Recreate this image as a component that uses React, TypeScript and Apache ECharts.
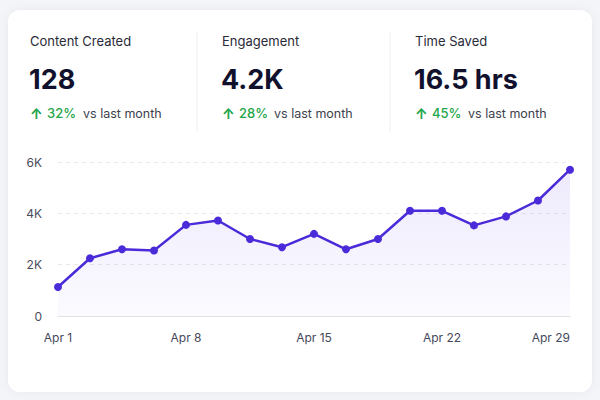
import React, { useEffect, useRef } from "react";
import * as echarts from "echarts";

const dates = [
  "Apr 1", "Apr 3", "Apr 4", "Apr 6", "Apr 8", "Apr 10", "Apr 11", "Apr 13", "Apr 15",
  "Apr 17", "Apr 18", "Apr 20", "Apr 22", "Apr 24", "Apr 25", "Apr 27", "Apr 29",
];
const engagementValues = [
  1130, 2250, 2600, 2550, 3550, 3720, 3000, 2680, 3200,
  2600, 3000, 4100, 4100, 3530, 3880, 4500, 5700,
];
const yTicks = [0, 2000, 4000, 6000];

const statTitles = ["Content Created", "Engagement", "Time Saved"];
const statValues = ["128", "4.2K", "16.5 hrs"];
const statChanges = ["32%", "28%", "45%"];
const statNote = "vs last month";

const FONT = "Inter, 'Noto Sans', sans-serif";

export default function App() {
  const ref = useRef<HTMLDivElement>(null);

  useEffect(() => {
    if (!ref.current) return;
    const chart = echarts.init(ref.current, null, { renderer: "svg" });

    const colX = [30, 222, 415];
    const noteX = [83, 274, 468];
    const graphics: any[] = [
      {
        type: "rect",
        shape: { x: 8, y: 10, width: 584, height: 382, r: 12 },
        style: { fill: "#ffffff", shadowBlur: 10, shadowColor: "rgba(30,30,80,0.05)" },
        z: -10,
      },
      {
        type: "line",
        shape: { x1: 197, y1: 32, x2: 197, y2: 132 },
        style: { stroke: "#eeeff3", lineWidth: 1 },
      },
      {
        type: "line",
        shape: { x1: 390, y1: 32, x2: 390, y2: 132 },
        style: { stroke: "#eeeff3", lineWidth: 1 },
      },
    ];
    statTitles.forEach((t, i) => {
      graphics.push({
        type: "text",
        x: colX[i],
        y: 41,
        style: {
          text: t,
          fill: "#2a2b38",
          font: `400 13px ${FONT}`,
          verticalAlign: "middle",
        },
      });
      graphics.push({
        type: "text",
        x: colX[i] - 1,
        y: 79,
        style: {
          text: statValues[i],
          fill: "#11112e",
          font: `700 27px ${FONT}`,
          verticalAlign: "middle",
        },
      });
      graphics.push({
        type: "text",
        x: colX[i],
        y: 113,
        style: {
          text: "↑",
          fill: "#1fa64b",
          font: `700 14px ${FONT}`,
          verticalAlign: "middle",
        },
      });
      graphics.push({
        type: "text",
        x: colX[i] + 17,
        y: 113,
        style: {
          text: statChanges[i],
          fill: "#1fa64b",
          font: `500 13px ${FONT}`,
          verticalAlign: "middle",
        },
      });
      graphics.push({
        type: "text",
        x: noteX[i],
        y: 113,
        style: {
          text: statNote,
          fill: "#3d3f4d",
          font: `400 12.5px ${FONT}`,
          verticalAlign: "middle",
        },
      });
    });

    chart.setOption({
      animation: false,
      backgroundColor: "#f4f5f9",
      graphic: graphics,
      grid: { left: 58, right: 30, top: 162, bottom: 84 },
      xAxis: {
        type: "category",
        data: dates,
        boundaryGap: false,
        axisLine: { show: true, lineStyle: { color: "#e2e3e9", width: 1 } },
        axisTick: { show: false },
        axisLabel: {
          interval: 3,
          margin: 15,
          color: "#45475a",
          fontSize: 12,
          fontFamily: FONT,
          alignMaxLabel: "right",
        },
        splitLine: { show: false },
      },
      yAxis: {
        type: "value",
        min: yTicks[0],
        max: yTicks[yTicks.length - 1],
        interval: 2000,
        axisLine: { show: false },
        axisTick: { show: false },
        axisLabel: {
          margin: 16,
          color: "#4a4c5c",
          fontSize: 12,
          fontFamily: FONT,
          formatter: (v: number) => (v === 0 ? "0" : `${v / 1000}K`),
        },
        splitLine: {
          show: true,
          lineStyle: { color: "#e7e8ee", type: [4, 4], width: 1 },
        },
      },
      series: [
        {
          type: "line",
          data: engagementValues,
          symbol: "circle",
          symbolSize: 8,
          showSymbol: true,
          lineStyle: { color: "#4b2bd9", width: 2.5 },
          itemStyle: { color: "#4b2bd9" },
          areaStyle: {
            color: new echarts.graphic.LinearGradient(0, 0, 0, 1, [
              { offset: 0, color: "rgba(120,90,240,0.18)" },
              { offset: 1, color: "rgba(120,90,240,0.04)" },
            ]),
          },
          z: 3,
        },
      ],
    });

    return () => chart.dispose();
  }, []);

  return (
    <div
      ref={ref}
      style={{ position: "fixed", left: 0, top: 0, width: 600, height: 400 }}
    />
  );
}
